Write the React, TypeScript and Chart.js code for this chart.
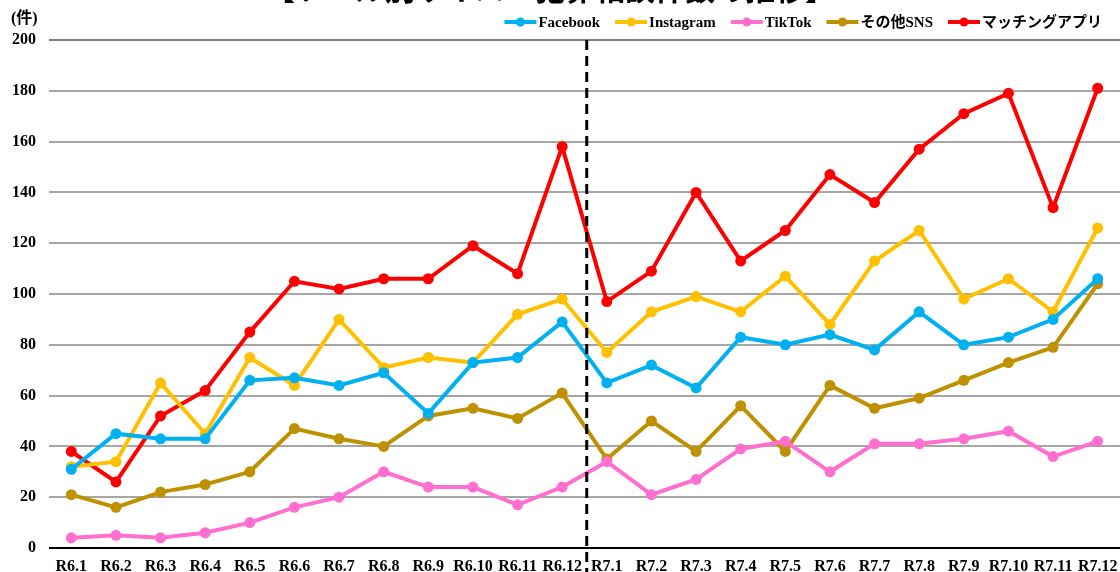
import React, { useEffect, useRef } from "react";
import { Chart, registerables } from "chart.js";

Chart.register(...registerables);

const TITLE = "【ツール別サイバー犯罪相談件数の推移】";
const UNIT = "(件)";

const categories = [
  "R6.1", "R6.2", "R6.3", "R6.4", "R6.5", "R6.6", "R6.7", "R6.8", "R6.9", "R6.10", "R6.11", "R6.12",
  "R7.1", "R7.2", "R7.3", "R7.4", "R7.5", "R7.6", "R7.7", "R7.8", "R7.9", "R7.10", "R7.11", "R7.12",
];

const facebook = [31, 45, 43, 43, 66, 67, 64, 69, 53, 73, 75, 89, 65, 72, 63, 83, 80, 84, 78, 93, 80, 83, 90, 106];
const instagram = [32, 34, 65, 45, 75, 64, 90, 71, 75, 73, 92, 98, 77, 93, 99, 93, 107, 88, 113, 125, 98, 106, 93, 126];
const tiktok = [4, 5, 4, 6, 10, 16, 20, 30, 24, 24, 17, 24, 34, 21, 27, 39, 42, 30, 41, 41, 43, 46, 36, 42];
const otherSns = [21, 16, 22, 25, 30, 47, 43, 40, 52, 55, 51, 61, 35, 50, 38, 56, 38, 64, 55, 59, 66, 73, 79, 104];
const matchingApp = [38, 26, 52, 62, 85, 105, 102, 106, 106, 119, 108, 158, 97, 109, 140, 113, 125, 147, 136, 157, 171, 179, 134, 181];

const seriesNames = ["Facebook", "Instagram", "TikTok", "その他SNS", "マッチングアプリ"];
const seriesValues = [facebook, instagram, tiktok, otherSns, matchingApp];
const seriesColors = ["#00B0F0", "#FFC000", "#FF6FCF", "#BF9000", "#FF0000"];

const yMin = 0;
const yMax = 200;
const yStep = 20;

// divider between R6.12 and R7.1 (category index position)
const dividerIndex = 11.55;

const FONT_FAMILY = '"Liberation Serif", "Noto Sans CJK JP", serif';

const overlayPlugin = {
  id: "overlay",
  afterDraw(chart: any) {
    const ctx = chart.ctx as CanvasRenderingContext2D;
    const area = chart.chartArea;
    const xs = chart.scales.x;

    // dashed divider
    const dx = xs.getPixelForValue(dividerIndex);
    ctx.save();
    ctx.strokeStyle = "#000";
    ctx.lineWidth = 3;
    ctx.setLineDash([10, 6]);
    ctx.beginPath();
    ctx.moveTo(dx, area.top);
    ctx.lineTo(dx, chart.height);
    ctx.stroke();
    ctx.restore();

    // title (mostly cut off at top)
    ctx.save();
    ctx.fillStyle = "#000";
    ctx.font = 'bold 30px "Noto Sans CJK JP", sans-serif';
    ctx.textAlign = "center";
    ctx.textBaseline = "alphabetic";
    ctx.fillText(TITLE, 550, 0);
    ctx.restore();

    // unit label
    ctx.save();
    ctx.fillStyle = "#000";
    ctx.font = `bold 16px ${FONT_FAMILY}`;
    ctx.textAlign = "left";
    ctx.textBaseline = "middle";
    ctx.fillText(UNIT, 11, 19);
    ctx.restore();

    // legend
    ctx.save();
    ctx.font = `bold 15px ${FONT_FAMILY}`;
    ctx.textBaseline = "middle";
    ctx.textAlign = "left";
    const lineW = 32;
    const gapText = 2;
    const gapItem = 15;
    const widths = seriesNames.map((n) => ctx.measureText(n).width);
    const total = widths.reduce((s, w) => s + lineW + gapText + w, 0) + gapItem * (seriesNames.length - 1);
    let x = 1102 - total;
    const y = 22;
    seriesNames.forEach((name, i) => {
      ctx.strokeStyle = seriesColors[i];
      ctx.lineWidth = 4;
      ctx.setLineDash([]);
      ctx.beginPath();
      ctx.moveTo(x, y);
      ctx.lineTo(x + lineW, y);
      ctx.stroke();
      ctx.fillStyle = seriesColors[i];
      ctx.beginPath();
      ctx.arc(x + lineW / 2, y, 4.5, 0, Math.PI * 2);
      ctx.fill();
      ctx.fillStyle = "#000";
      ctx.fillText(name, x + lineW + gapText, y + 1);
      x += lineW + gapText + widths[i] + gapItem;
    });
    ctx.restore();
  },
};

export default function App() {
  const canvasRef = useRef<HTMLCanvasElement | null>(null);

  useEffect(() => {
    document.body.style.margin = "0";
    const canvas = canvasRef.current;
    if (!canvas) return;
    const chart = new Chart(canvas, {
      type: "line",
      data: {
        labels: categories,
        datasets: seriesNames.map((name, i) => ({
          label: name,
          data: seriesValues[i],
          borderColor: seriesColors[i],
          backgroundColor: seriesColors[i],
          borderWidth: 4,
          pointRadius: 5.5,
          pointBorderWidth: 0,
          pointBackgroundColor: seriesColors[i],
          tension: 0,
          fill: false,
          clip: false,
        })),
      },
      options: {
        responsive: false,
        animation: false,
        layout: { autoPadding: false, padding: { top: 40, left: 0, right: 0, bottom: 0 } },
        plugins: {
          legend: { display: false },
          title: { display: false },
          tooltip: { enabled: false },
        },
        scales: {
          x: {
            type: "category",
            offset: true,
            grid: { display: false, drawTicks: true, tickLength: 9 },
            border: { display: false },
            ticks: {
              color: "#000",
              font: { family: FONT_FAMILY, size: 16, weight: "bold" },
              padding: 0,
              maxRotation: 0,
              autoSkip: false,
            },
            afterFit(scale: any) {
              scale.height = 24;
              scale.paddingLeft = 0;
              scale.paddingRight = 0;
            },
          },
          y: {
            min: yMin,
            max: yMax,
            grid: {
              drawTicks: false,
              lineWidth: 2,
              color: (c: any) => {
                const v = c.tick ? c.tick.value : 0;
                if (v === 0) return "#000000";
                if (v === yMax) return "#808080";
                return "#A6A6A6";
              },
            },
            border: { display: false },
            ticks: {
              stepSize: yStep,
              color: "#000",
              padding: 13,
              font: { family: FONT_FAMILY, size: 16, weight: "bold" },
            },
            afterFit(scale: any) {
              scale.width = 49;
            },
          },
        },
      },
      plugins: [overlayPlugin],
    });
    return () => chart.destroy();
  }, []);

  return (
    <div style={{ width: 1120, height: 572, position: "relative", overflow: "hidden" }}>
      <canvas ref={canvasRef} width={1120} height={572} style={{ display: "block" }} />
    </div>
  );
}
